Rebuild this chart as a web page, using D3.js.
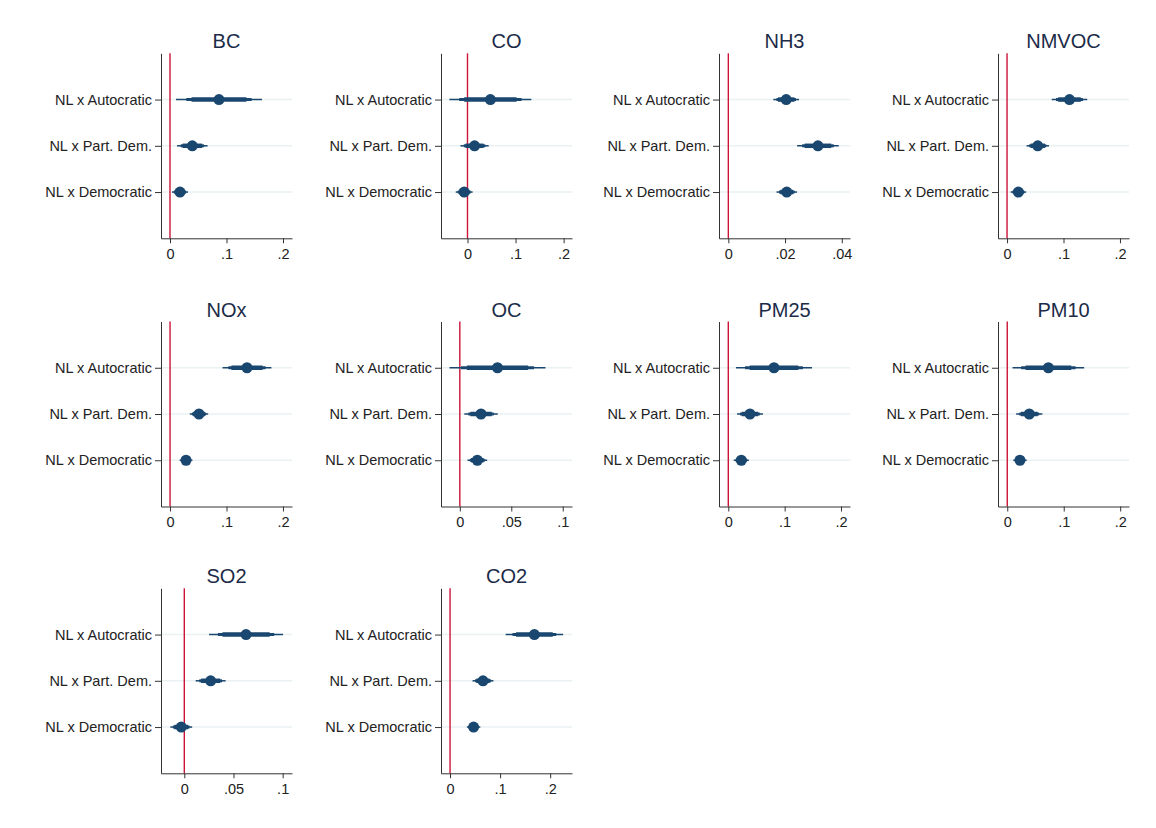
<!DOCTYPE html>
<html>
<head>
<meta charset="utf-8">
<title>Coefficient plots by pollutant</title>
<script src="https://d3js.org/d3.v7.min.js"></script>
<style>
body { margin: 0; background: #fff; }
svg { display: block; }
text { font-family: "Liberation Sans", Arial, sans-serif; }
.title { font-size: 20px; fill: #1c2b48; text-anchor: middle; }
.cat { font-size: 14.5px; fill: #222; text-anchor: end; dominant-baseline: central; }
.axis path, .axis line { stroke: #333; }
.axis text { font-size: 14.5px; fill: #222; font-family: "Liberation Sans", Arial, sans-serif; }
</style>
</head>
<body>
<div id="chart"></div>
<script>

var width = 1156;
var height = 828;

// panel titles, in reading order
var pollutants = ["BC", "CO", "NH3", "NMVOC", "NOx", "OC", "PM25", "PM10", "SO2", "CO2"];
var categories = ["NL x Autocratic", "NL x Part. Dem.", "NL x Democratic"];

// point estimates (Autocratic, Part. Dem., Democratic)
var coefs = [
  [0.0867, 0.0395, 0.0177],
  [0.0476, 0.0147, -0.0069],
  [0.0204, 0.0316, 0.0206],
  [0.1106, 0.0544, 0.0201],
  [0.1363, 0.0513, 0.0283],
  [0.0366, 0.0206, 0.0170],
  [0.0811, 0.0385, 0.0231],
  [0.0728, 0.0390, 0.0225],
  [0.0628, 0.0268, -0.0031],
  [0.1685, 0.0658, 0.0470]
];

// standard errors, from the width of the outer (99%) intervals
var stdErrs = [
  [0.0295, 0.0105, 0.0055],
  [0.0331, 0.0114, 0.0068],
  [0.00176, 0.00285, 0.0014],
  [0.0122, 0.0077, 0.0053],
  [0.0168, 0.0063, 0.0044],
  [0.0181, 0.0063, 0.0037],
  [0.0262, 0.0089, 0.0052],
  [0.0246, 0.0090, 0.0046],
  [0.0146, 0.0059, 0.0043],
  [0.0223, 0.0081, 0.0052]
];

// x axis ranges and ticks
var xDomains = [
  [-0.0159, 0.2159],
  [-0.0551, 0.2174],
  [-0.00329, 0.0429],
  [-0.016, 0.216],
  [-0.016, 0.216],
  [-0.0183, 0.109],
  [-0.0165, 0.216],
  [-0.0164, 0.2156],
  [-0.0237, 0.1095],
  [-0.0181, 0.2436]
];
var xTicks = [
  [0, 0.1, 0.2],
  [0, 0.1, 0.2],
  [0, 0.02, 0.04],
  [0, 0.1, 0.2],
  [0, 0.1, 0.2],
  [0, 0.05, 0.1],
  [0, 0.1, 0.2],
  [0, 0.1, 0.2],
  [0, 0.05, 0.1],
  [0, 0.1, 0.2]
];

// confidence levels 99 / 95 / 90
var zValues = [2.576, 1.960, 1.645];
var ciWidths = [1.5, 3, 4.5];

var colX = [161, 441, 719, 998];
var rowY = [53.3, 321.5, 588.3];
var plotW = 131;
var plotH = 185;

var navy = "#1a476f";

var svg = d3.select("#chart").append("svg")
  .attr("width", width).attr("height", height);

function stataFmt(v) {
  if (v === 0) return "0";
  return String(v).replace(/^0\./, ".").replace(/^-0\./, "-.");
}

pollutants.forEach(function (name, i) {
  var left = colX[i % 4];
  var top = rowY[Math.floor(i / 4)];

  var g = svg.append("g").attr("transform", "translate(" + left + "," + top + ")");

  var xScale = d3.scaleLinear().domain(xDomains[i]).range([0, plotW]);
  var yScale = d3.scaleLinear().domain([0, 4]).range([0, plotH]);

  // light gridlines at each category
  g.selectAll("line.grid").data(categories).enter().append("line")
    .attr("class", "grid")
    .attr("x1", 0).attr("x2", plotW)
    .attr("y1", function (d, j) { return yScale(j + 1); })
    .attr("y2", function (d, j) { return yScale(j + 1); })
    .style("stroke", "#eaf1f3")
    .style("stroke-width", 1.5);

  // reference line at zero
  g.append("line")
    .attr("x1", xScale(0)).attr("x2", xScale(0))
    .attr("y1", 0).attr("y2", plotH)
    .style("stroke", "#cc1438")
    .style("stroke-width", 1.4);

  // confidence intervals, widest first
  zValues.forEach(function (z, k) {
    g.selectAll("line.ci" + k).data(coefs[i]).enter().append("line")
      .attr("class", "ci" + k)
      .attr("x1", function (d, j) { return xScale(d - z * stdErrs[i][j]); })
      .attr("x2", function (d, j) { return xScale(d + z * stdErrs[i][j]); })
      .attr("y1", function (d, j) { return yScale(j + 1); })
      .attr("y2", function (d, j) { return yScale(j + 1); })
      .style("stroke", navy)
      .style("stroke-width", ciWidths[k]);
  });

  g.selectAll("circle").data(coefs[i]).enter().append("circle")
    .attr("cx", function (d) { return xScale(d); })
    .attr("cy", function (d, j) { return yScale(j + 1); })
    .attr("r", 5.5)
    .style("fill", navy);

  // axes
  var xAxis = d3.axisBottom(xScale).tickValues(xTicks[i]).tickSize(5).tickSizeOuter(0).tickFormat(stataFmt);
  g.append("g").attr("class", "axis")
    .attr("transform", "translate(0," + plotH + ")")
    .call(xAxis)
    .call(function (a) { a.selectAll("text").attr("dy", "0.85em"); });

  var yAxis = d3.axisLeft(yScale).tickValues([1, 2, 3]).tickSize(6).tickSizeOuter(0).tickFormat("");
  g.append("g").attr("class", "axis").call(yAxis);

  g.selectAll("text.cat").data(categories).enter().append("text")
    .attr("class", "cat")
    .attr("x", -9)
    .attr("y", function (d, j) { return yScale(j + 1); })
    .text(function (d) { return d; });

  g.append("text").attr("class", "title")
    .attr("x", plotW / 2).attr("y", -5)
    .text(name);
});

</script>
</body>
</html>
